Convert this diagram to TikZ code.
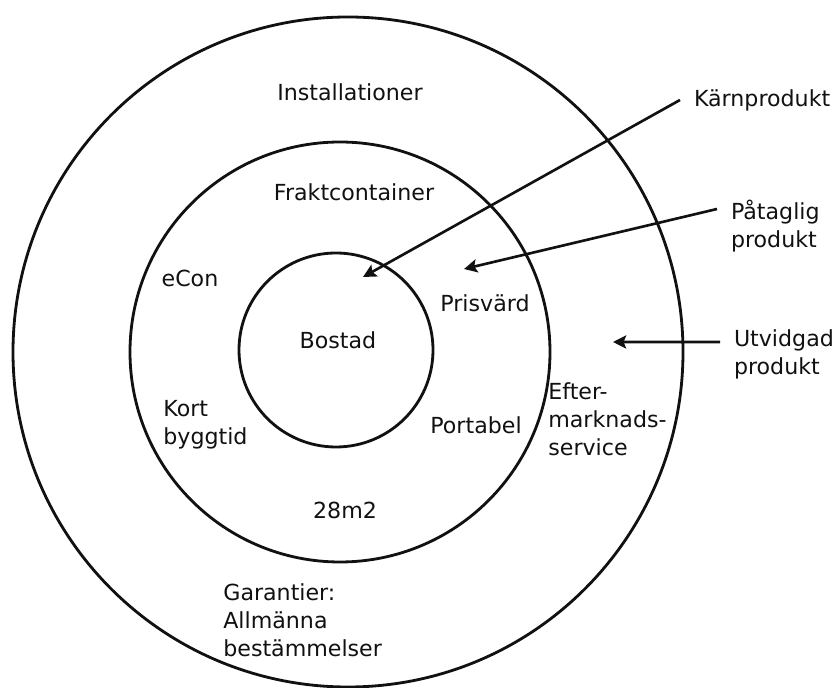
\documentclass[tikz,border=0pt]{standalone}
\usepackage{fontspec}
\setmainfont{DejaVu Sans}
\usepackage{xcolor}
\usetikzlibrary{arrows.meta}
\definecolor{ink}{HTML}{111111}
\tikzset{
  ring/.style={draw=ink, line width=1.6pt},
  arr/.style={draw=ink, line width=1.5pt, -{Stealth[length=7.5pt,width=7.5pt,inset=1.5pt]}},
  lab/.style={text=ink, font=\fontsize{12.6}{16}\selectfont, inner sep=0pt, align=left},
  callout/.style={lab, anchor=west, outer sep=0.28cm},
}

\begin{document}
\begin{tikzpicture}[x=0.02cm, y=0.02cm]
  \useasboundingbox (0,0) rectangle (839,-688);
  % rings
  \coordinate (Cout) at (348,-352);
  \coordinate (Cmid) at (340,-352);
  \coordinate (Cin)  at (336,-350);
  \def\rOut{335}
  \def\rMid{210}
  \def\rIn{97}
  \draw[ring] (Cout) circle (\rOut);
  \draw[ring] (Cmid) circle (\rMid);
  \draw[ring] (Cin) circle (\rIn);
  % texts inside the rings
  \node[lab] (inst) at (350,-92) {Installationer};
  \node[lab] (frakt) at (354,-192) {Fraktcontainer};
  \node[lab] (econ) at (190,-278) {eCon};
  \node[lab] (bostad) at (338,-340) {Bostad};
  \node[lab] (prisvard) at (485,-303) {Prisvärd};
  \node[lab, anchor=west] (kort) at (163,-425) {Kort\\byggtid};
  \node[lab] (portabel) at (476,-425) {Portabel};
  \node[lab, anchor=west] (efter) at (548,-419) {Efter-\\marknads-\\service};
  \node[lab] (kvm) at (345,-510) {28m2};
  \node[lab, anchor=west] (garanti) at (223,-620) {Garantier:\\Allmänna\\bestämmelser};
  % callouts on the right
  \node[callout] (karn) at (680,-100) {Kärnprodukt};
  \node[callout] (patag) at (717,-226) {Påtaglig\\produkt};
  \node[callout] (utvid) at (720,-354) {Utvidgad\\produkt};
  \coordinate (karnTip) at (363,-277);
  \coordinate (patagTip) at (464,-269);
  \coordinate (utvidTip) at (613,-342);
  \draw[arr] (karn.west) -- (karnTip);
  \draw[arr] ([yshift=0.34cm]patag.west) -- (patagTip);
  \draw[arr] ([yshift=0.24cm]utvid.west) -- (utvidTip);
\end{tikzpicture}
\end{document}
